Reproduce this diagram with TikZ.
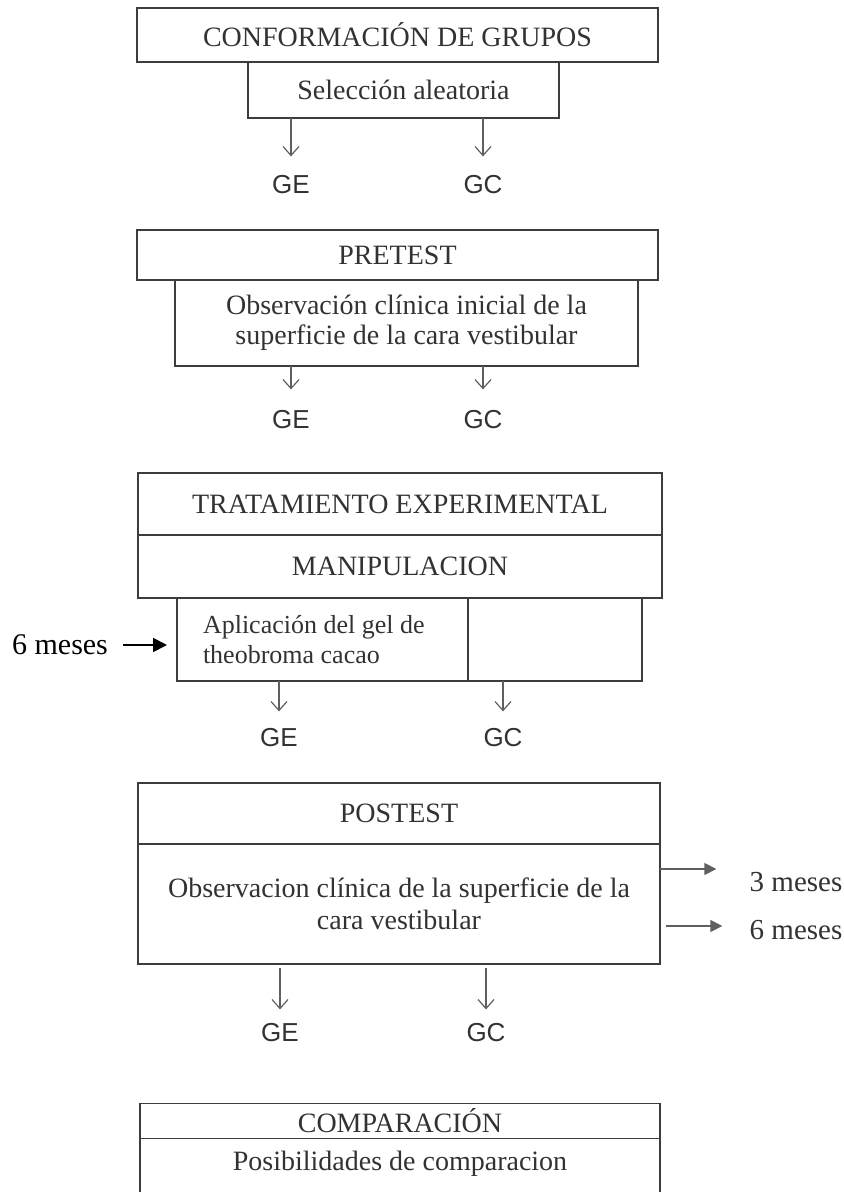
\documentclass[tikz,border=0pt]{standalone}
\usepackage{fontspec}
\setmainfont{Liberation Serif}
\newfontfamily\grpfont{Liberation Sans}
\usetikzlibrary{arrows.meta,positioning,calc}
\definecolor{inkgray}{RGB}{60,60,60}
\definecolor{txtgray}{RGB}{50,50,50}
\definecolor{arrgray}{RGB}{95,95,95}

\begin{document}
\begin{tikzpicture}[x=0.5pt,y=-0.5pt,
  cbox/.style={rectangle,draw=inkgray,line width=0.8pt,inner sep=0pt,outer sep=0pt,
               text=txtgray,align=center,font=\fontsize{14}{15}\selectfont},
  grp/.style={inner sep=0pt,text=txtgray,font=\grpfont\fontsize{13}{14}\selectfont},
  mes/.style={inner sep=0pt,font=\fontsize{14.5}{15}\selectfont},
  down/.style={-{Straight Barb[length=4.5pt,width=8pt]},arrgray,line width=0.6pt},
  side/.style={-{Triangle[length=6pt,width=6pt]},arrgray,line width=0.8pt},
  tarrow/.style={-{Triangle[length=7pt,width=7pt]},black,line width=0.9pt}]
\useasboundingbox (0,0) rectangle (843,1192);
\coordinate (pgbot) at (400,1192);

\node[cbox,minimum width=260.5pt,minimum height=27pt] (conf) at (397.5,35) {CONFORMACIÓN DE GRUPOS};
\node[cbox,minimum width=155.5pt,minimum height=28pt] (sel) at (403.5,90) {Selección aleatoria};
\node[grp] (ge1) at (291,185) {GE};
\node[grp] (gc1) at (483,185) {GC};
\draw[down,shorten >=9.5pt] (sel.south -| ge1) -- (ge1);
\draw[down,shorten >=9.5pt] (sel.south -| gc1) -- (gc1);

\node[cbox,minimum width=260.5pt,minimum height=25pt] (pre) at (397.5,255) {PRETEST};
\node[cbox,minimum width=231.5pt,minimum height=43pt] (obsi) at (406.5,323) {Observación clínica inicial de la\\superficie de la cara vestibular};
\node[grp] (ge2) at (291,420) {GE};
\node[grp] (gc2) at (483,420) {GC};
\draw[down,shorten >=10.5pt] (obsi.south -| ge2) -- (ge2);
\draw[down,shorten >=10.5pt] (obsi.south -| gc2) -- (gc2);

\node[cbox,minimum width=262pt,minimum height=31pt] (trat) at (400,504) {TRATAMIENTO EXPERIMENTAL};
\node[cbox,minimum width=262pt,minimum height=31.5pt] (mani) at (400,566.5) {MANIPULACION};
\node[cbox,minimum width=145.5pt,minimum height=41.5pt,text width=119.5pt,align=flush left,
      font=\fontsize{13}{15}\selectfont] (apl) at (322.5,639.5) {Aplicación del gel de\\theobroma cacao};
\node[cbox,minimum width=87pt,minimum height=41.5pt,anchor=west] (vacio) at (apl.east) {};
\node[mes,font=\fontsize{15}{16}\selectfont] (seis) at (60,645) {6 meses};
\draw[tarrow,shorten <=7.5pt,shorten >=5pt] (seis) -- (seis -| apl.west);
\node[grp] (ge3) at (279,738) {GE};
\node[grp] (gc3) at (503,738) {GC};
\draw[down,shorten >=8.5pt] (apl.south -| ge3) -- (ge3);
\draw[down,shorten >=8.5pt] (apl.south -| gc3) -- (gc3);

\node[cbox,minimum width=261pt,minimum height=30.5pt] (post) at (399,813.5) {POSTEST};
\node[cbox,minimum width=261pt,minimum height=60pt,font=\fontsize{14}{16}\selectfont] (obsf) at (399,904) {Observacion clínica de la superficie de la\\cara vestibular};
\node[mes,text=txtgray] (tres) at (796,882) {3 meses};
\node[mes,text=txtgray] (seisb) at (796,930) {6 meses};
\draw[side,shorten >=16.5pt] ([yshift=6.5pt]obsf.east |- tres) -- ([yshift=6.5pt]tres.west);
\draw[side,shorten <=3pt,shorten >=13.5pt] ([yshift=2pt]obsf.east |- seisb) -- ([yshift=2pt]seisb.west);
\node[grp] (ge4) at (280,1033) {GE};
\node[grp] (gc4) at (486,1033) {GC};
\draw[down,shorten <=2pt,shorten >=7pt] (obsf.south -| ge4) -- (ge4);
\draw[down,shorten <=2pt,shorten >=7pt] (obsf.south -| gc4) -- (gc4);

\node[cbox,minimum width=260pt,minimum height=17.5pt] (comp) at (400,1121) {COMPARACIÓN};
\node[inner sep=0pt,text=txtgray,font=\fontsize{14}{15}\selectfont] (posib) at (400,1164) {Posibilidades de comparacion};
\draw[draw=inkgray,line width=0.8pt] (comp.south west) -- (comp.south west |- pgbot);
\draw[draw=inkgray,line width=0.8pt] (comp.south east) -- (comp.south east |- pgbot);
\end{tikzpicture}
\end{document}
